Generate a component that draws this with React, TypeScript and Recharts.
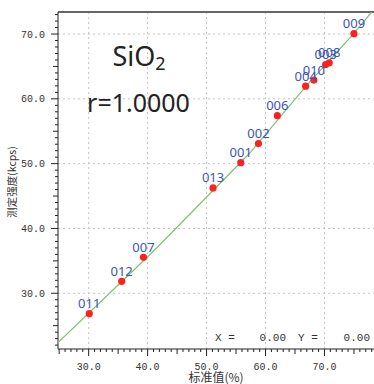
import React from 'react';
import { ScatterChart, Scatter, XAxis, YAxis, ReferenceLine, LabelList } from 'recharts';

// measured samples: standard value (%) vs measured intensity (kcps)
const sampleIds = ['011', '012', '007', '013', '001', '002', '006', '004', '010', '003', '008', '009'];
const standardValues = [30.1, 35.6, 39.3, 51.1, 55.8, 58.8, 62.0, 66.8, 68.2, 70.2, 70.8, 75.0];
const intensities = [26.85, 31.85, 35.55, 46.25, 50.15, 53.1, 57.4, 61.95, 62.9, 65.3, 65.55, 70.05];

// calibration curve
const curveX = [24.8, 40.9, 57.3, 66.8, 75.0, 78.0];
const curveY = [22.4, 36.4, 51.6, 61.9, 70.1, 73.4];

const xDomain = [24.8, 78.4];
const yDomain = [21.4, 73.4];
const majorTicks = [30, 40, 50, 60, 70];
const xMinorTicks = Array.from({ length: 54 }, (_, i) => 25 + i);
const yMinorTicks = Array.from({ length: 52 }, (_, i) => 22 + i);

const points = sampleIds.map((id, i) => ({ id, x: standardValues[i], y: intensities[i] }));
const curve = curveX.map((x, i) => ({ x, y: curveY[i] }));

const MONO = '"Liberation Mono", "DejaVu Sans Mono", monospace';
const tickLen = (v: number) => (v % 10 === 0 ? 7 : v % 5 === 0 ? 5 : 3);

const XTick = (props: any) => {
  const { x, y, payload } = props;
  const v = payload.value;
  return (
    <g>
      <line x1={x} x2={x} y1={y} y2={y + tickLen(v)} stroke="#222" />
      {v % 10 === 0 && (
        <text x={x} y={y + 21} textAnchor="middle" fontSize={10} fontFamily={MONO} fill="#333">
          {v.toFixed(1)}
        </text>
      )}
    </g>
  );
};

const YTick = (props: any) => {
  const { x, y, payload } = props;
  const v = payload.value;
  return (
    <g>
      <line x1={x} x2={x - tickLen(v)} y1={y} y2={y} stroke="#222" />
      {v % 10 === 0 && (
        <text x={x - 13} y={y + 3.5} textAnchor="end" fontSize={10} fontFamily={MONO} fill="#333">
          {v.toFixed(1)}
        </text>
      )}
    </g>
  );
};

const Dot = (props: any) => <circle cx={props.cx} cy={props.cy} r={3.6} fill="#ff2020" />;
const NoDot = () => <g />;

export default function App() {
  return (
    <div style={{ position: 'absolute', left: 0, top: 0, width: 374, height: 384, background: '#fff' }}>
      <ScatterChart width={374} height={384} margin={{ top: 12, right: 0, bottom: 0, left: 0 }}>
        <XAxis
          type="number"
          dataKey="x"
          domain={xDomain}
          ticks={xMinorTicks}
          interval={0}
          allowDataOverflow
          height={35}
          tickSize={0}
          tickMargin={0}
          tickLine={false}
          tick={XTick}
          axisLine={{ stroke: '#222' }}
        />
        <YAxis
          type="number"
          dataKey="y"
          domain={yDomain}
          ticks={yMinorTicks}
          interval={0}
          allowDataOverflow
          width={58}
          tickSize={0}
          tickMargin={0}
          tickLine={false}
          tick={YTick}
          axisLine={{ stroke: '#222' }}
        />
        {majorTicks.map((t) => (
          <ReferenceLine key={'vx' + t} x={t} stroke="#c4c4c4" strokeDasharray="2 3" />
        ))}
        {majorTicks.map((t) => (
          <ReferenceLine key={'hy' + t} y={t} stroke="#c4c4c4" strokeDasharray="2 3" />
        ))}
        <ReferenceLine y={yDomain[1]} stroke="#666" strokeWidth={2} />
        <Scatter
          data={curve}
          line={{ stroke: '#7cc46c', strokeWidth: 1.2 }}
          lineType="joint"
          shape={NoDot}
          isAnimationActive={false}
        />
        <Scatter data={points} shape={Dot} isAnimationActive={false}>
          <LabelList
            dataKey="id"
            position="top"
            offset={1}
            fill="#3a56b4"
            fontSize={13}
            fontFamily='"Noto Sans", sans-serif'
          />
        </Scatter>
      </ScatterChart>

      <div style={{ position: 'absolute', left: 0, top: 41, width: 278, textAlign: 'center', fontFamily: '"Noto Sans", sans-serif', fontSize: 27, color: '#222', lineHeight: '30px' }}>
        SiO<sub style={{ fontSize: 18, verticalAlign: '-4px', lineHeight: 0 }}>2</sub>
      </div>
      <div style={{ position: 'absolute', left: 0, top: 86, width: 277, textAlign: 'center', fontFamily: '"Noto Sans", sans-serif', fontSize: 25, color: '#222', lineHeight: '32px' }}>
        r=1.0000
      </div>

      <div style={{ position: 'absolute', left: 215, top: 331, fontFamily: MONO, fontSize: 11, color: '#333', whiteSpace: 'pre', lineHeight: '14px' }}>X =</div>
      <div style={{ position: 'absolute', left: 256, width: 30, top: 331, textAlign: 'right', fontFamily: MONO, fontSize: 11, color: '#333', lineHeight: '14px' }}>0.00</div>
      <div style={{ position: 'absolute', left: 298, top: 331, fontFamily: MONO, fontSize: 11, color: '#333', whiteSpace: 'pre', lineHeight: '14px' }}>Y =</div>
      <div style={{ position: 'absolute', left: 340, width: 30, top: 331, textAlign: 'right', fontFamily: MONO, fontSize: 11, color: '#333', lineHeight: '14px' }}>0.00</div>

      <div style={{ position: 'absolute', left: 166, width: 100, top: 370, textAlign: 'center', fontFamily: '"Noto Sans CJK SC", sans-serif', fontSize: 12, color: '#333', lineHeight: '14px' }}>
        标准值(%)
      </div>
      <div style={{ position: 'absolute', left: 12, top: 182, width: 0, height: 0 }}>
        <div style={{ position: 'absolute', left: -50, top: -7, width: 100, textAlign: 'center', transform: 'rotate(-90deg)', fontFamily: '"Noto Sans CJK SC", sans-serif', fontSize: 10.5, color: '#333', lineHeight: '14px', whiteSpace: 'nowrap' }}>
          测定强度(kcps)
        </div>
      </div>
    </div>
  );
}
